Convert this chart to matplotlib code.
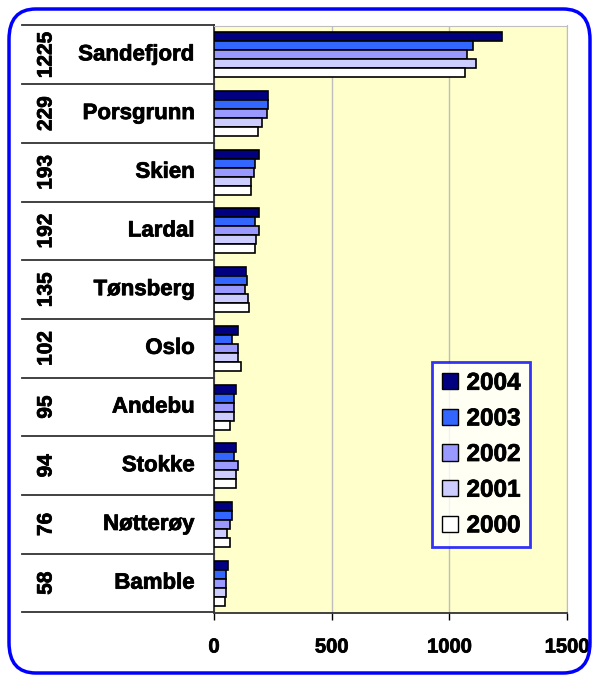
import numpy as np
import matplotlib
matplotlib.use('Agg')
import matplotlib.pyplot as plt
import matplotlib.patheffects as pe
from matplotlib.patches import FancyBboxPatch, Patch

plt.rcParams['font.family'] = 'Liberation Sans'
plt.rcParams['font.weight'] = 'bold'

# data, top category first
places = ['Sandefjord', 'Porsgrunn', 'Skien', 'Lardal', 'Tønsberg',
          'Oslo', 'Andebu', 'Stokke', 'Nøtterøy', 'Bamble']
y2004 = [1225, 229, 193, 192, 135, 102, 95, 94, 76, 58]
y2003 = [1102, 228, 176, 176, 139, 78, 84, 84, 78, 50]
y2002 = [1074, 224, 169, 193, 133, 101, 84, 103, 67, 50]
y2001 = [1115, 205, 157, 180, 144, 101, 84, 95, 54, 50]
y2000 = [1068, 187, 157, 174, 150, 115, 67, 95, 67, 45]
years = ['2004', '2003', '2002', '2001', '2000']
series = [y2004, y2003, y2002, y2001, y2000]
colors = ['#000080', '#3366FF', '#9999FF', '#CCCCFF', '#FFFFFF']
xticks = [0, 500, 1000, 1500]

heavy = [pe.withStroke(linewidth=0.55, foreground='black')]

W, H = 595, 677
fig = plt.figure(figsize=(W / 100, H / 100), dpi=100)
ax = fig.add_axes([214 / W, 1 - 612.5 / H, (567 - 214) / W, (612.5 - 25.5) / H])
ax.set_facecolor('#FFFFCC')

n = len(places)
pos = np.arange(n)
bh = 0.153
for i, (vals, col) in enumerate(zip(series, colors)):
    ax.barh(pos + (i - 2) * bh, vals, height=bh, color=col,
            edgecolor='black', linewidth=1.2, label=years[i], zorder=3)

ax.set_ylim(n - 0.5, -0.5)
ax.set_xlim(0, 1500)
ax.set_xticks(xticks)
ax.set_xticklabels([str(t) for t in xticks], fontsize=14.5,
                   fontweight='bold', family='Liberation Sans')
for t in ax.get_xticklabels():
    t.set_path_effects(heavy)
ax.tick_params(axis='x', direction='out', length=5, width=1, pad=13)
ax.set_yticks([])
ax.grid(axis='x', color='#BEBEBE', linewidth=1, zorder=0)

for s in ['top', 'right']:
    ax.spines[s].set_color('#BEBEBE')
ax.spines['left'].set_color('#333333')
ax.spines['bottom'].set_color('#333333')
ax.spines['left'].set_linewidth(1.3)
ax.spines['bottom'].set_linewidth(1.3)

# left table with category dividers and labels
tr = ax.get_yaxis_transform()
x0 = (22 - 214) / 353
for b in np.arange(n + 1) - 0.5:
    ax.plot([x0, 0], [b, b], color='#333333', lw=1.3, transform=tr, clip_on=False)
for k, name in enumerate(places):
    ax.text(-0.055, k, name, transform=tr, ha='right', va='center',
            fontsize=16, fontweight='bold', family='Liberation Sans',
            path_effects=heavy)
    ax.text((46 - 214) / 353, k, str(y2004[k]), transform=tr, ha='center',
            va='center', rotation=90, fontsize=15, fontweight='bold',
            family='Liberation Sans', path_effects=heavy)

handles = [Patch(facecolor=c, edgecolor='black', linewidth=1) for c in colors]
leg = fig.legend(handles, years, loc='upper left',
                 bbox_to_anchor=(432 / W, 1 - 362 / H), borderaxespad=0,
                 fancybox=False, frameon=True,
                 prop={'family': 'Liberation Sans', 'weight': 'bold', 'size': 17.5},
                 handlelength=0.65, handleheight=0.65, handletextpad=0.37,
                 labelspacing=0.52, borderpad=0.4)
leg.get_frame().set_edgecolor('#0000FF')
leg.get_frame().set_linewidth(2)
for t in leg.get_texts():
    t.set_path_effects(heavy)

frame = FancyBboxPatch((9 / W, 1 - 673 / H), (590 - 9) / W, (673 - 9) / H,
                       boxstyle='round,pad=0,rounding_size=0.045',
                       transform=fig.transFigure, facecolor='none',
                       edgecolor='#0000FF', linewidth=2.5, clip_on=False)
fig.patches.append(frame)

fig.savefig('out.png', dpi=100)
